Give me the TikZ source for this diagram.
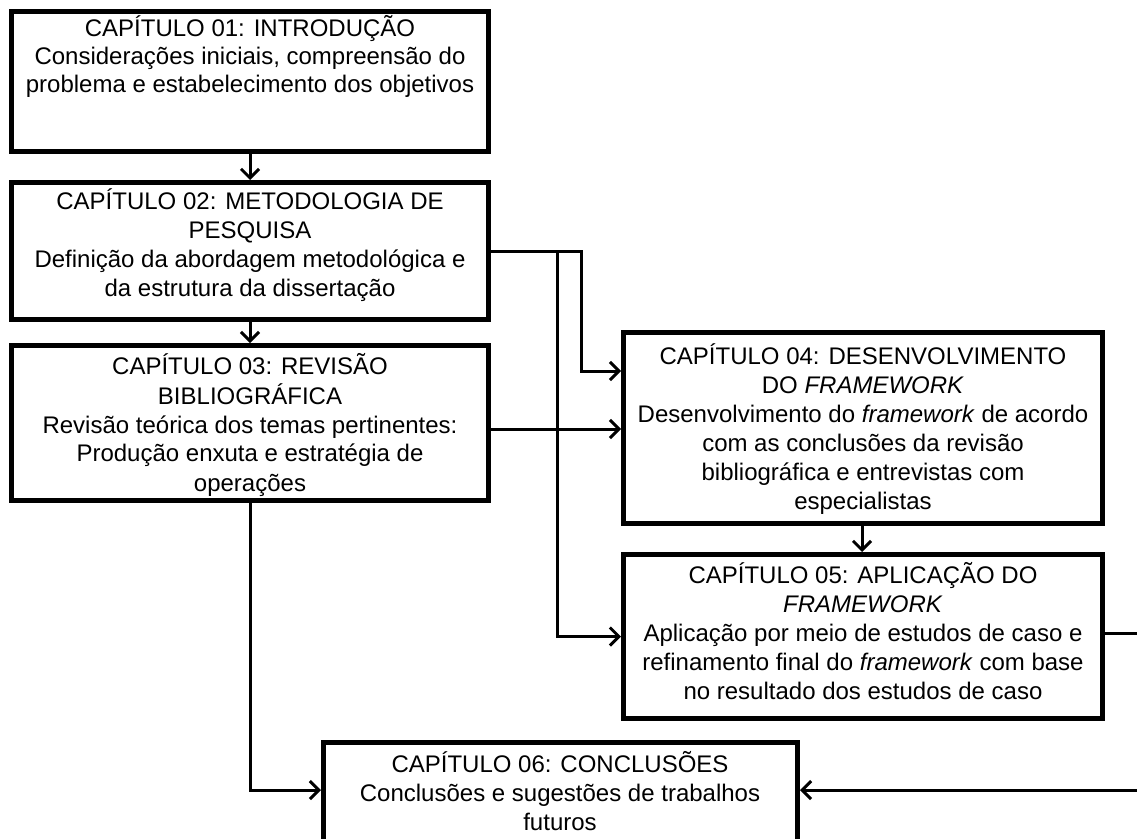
\documentclass[tikz,border=0pt]{standalone}
\usepackage{fontspec}
\setmainfont{Liberation Sans}
\usetikzlibrary{arrows.meta}
\begin{document}
\begin{tikzpicture}[x=1pt,y=-1pt,
  box/.style={draw, line width=5pt, inner sep=0pt},
  txt/.style={align=center, inner sep=0pt, font=\fontsize{24}{29}\selectfont},
  conn/.style={line width=3pt},
  arr/.style={conn, -{Straight Barb[length=9pt,width=18pt,line width=3pt]}}]
\clip (0,0) rectangle (1137,838);

% chapter boxes
\node[box, minimum width=477pt, minimum height=140pt] (b1) at (250,81.5) {};
\node[box, minimum width=477pt, minimum height=137pt] (b2) at (250,251) {};
\node[box, minimum width=477pt, minimum height=155pt] (b3) at (250,423) {};
\node[box, minimum width=479pt, minimum height=191pt] (b4) at (863,428) {};
\node[box, minimum width=479pt, minimum height=164pt] (b5) at (863,636.5) {};
\node[box, minimum width=474pt, minimum height=140pt] (b6) at (560.5,812.5) {};

% chapter texts
\node[txt, font=\fontsize{24}{28}\selectfont] (t1) at (250,56.5) {CAPÍTULO 01: INTRODUÇÃO\\Considerações iniciais, compreensão do\\problema e estabelecimento dos objetivos};
\node[txt] (t2) at (250,245) {CAPÍTULO 02: METODOLOGIA DE\\PESQUISA\\Definição da abordagem metodológica e\\da estrutura da dissertação};
\node[txt] (t3) at (250,425) {CAPÍTULO 03: REVISÃO\\BIBLIOGRÁFICA\\Revisão teórica dos temas pertinentes:\\Produção enxuta e estratégia de\\operações};
\node[txt] (t4) at (863,429.5) {CAPÍTULO 04: DESENVOLVIMENTO\\DO \textit{FRAMEWORK}\\Desenvolvimento do \textit{framework} de acordo\\com as conclusões da revisão\\bibliográfica e entrevistas com\\especialistas};
\node[txt] (t5) at (863,631.5) {CAPÍTULO 05: APLICAÇÃO DO\\\textit{FRAMEWORK}\\Aplicação por meio de estudos de caso e\\refinamento final do \textit{framework} com base\\no resultado dos estudos de caso};
\node[txt] (t6) at (560,791.5) {CAPÍTULO 06: CONCLUSÕES\\Conclusões e sugestões de trabalhos\\futuros};

% junction and bend points
\coordinate (k1) at (581,371);
\coordinate (k2) at (557,251);
\coordinate (k3) at (0,429);
\coordinate (k4) at (0,790);
\coordinate (k5) at (1142,633);
\coordinate (k6) at (1142,790);

% connectors
\draw[arr] (b1.south) -- (b2.north);
\draw[arr] (b2.south) -- (b3.north);
\draw[arr] (b2.east) -| (k1) -- (k1 -| b4.west);
\draw[arr] (k2) |- (b5.west);
\draw[arr] (b3.east |- k3) -- (b4.west |- k3);
\draw[arr] (b3.south) |- (b6.west |- k4);
\draw[arr] (b4.south -| 862,0) -- (b5.north -| 862,0);
\draw[arr] (b5.east |- k5) -- (k5) -- (k6) -- (k6 -| b6.east);
\end{tikzpicture}
\end{document}
